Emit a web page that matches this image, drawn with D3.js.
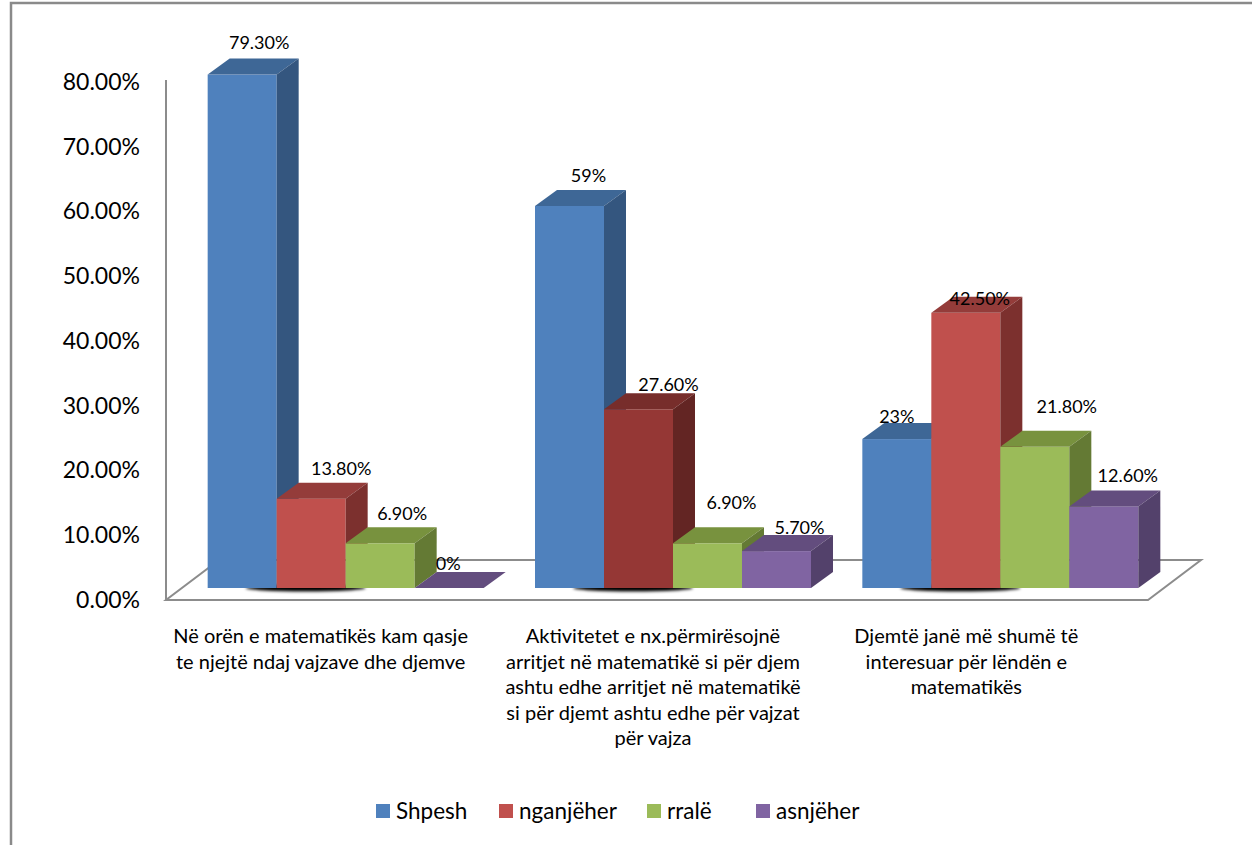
<!DOCTYPE html>
<html>
<head>
<meta charset="utf-8">
<script src="https://cdn.jsdelivr.net/npm/d3@7"></script>
<style>
    body { margin: 0; background: #fff; }
    svg text { font-family: Lato, "Open Sans", sans-serif; fill: #000; }
</style>
</head>
<body>
<svg id="chart" width="1252" height="845"></svg>
<script>
// ---- data ----
var categories = ["cat1", "cat2", "cat3"];
var categoryLines = [
    ["Në orën e matematikës kam qasje", "te njejtë ndaj vajzave dhe djemve"],
    ["Aktivitetet e nx.përmirësojnë", "arritjet në matematikë si për djem", "ashtu edhe arritjet në matematikë", "si për djemt ashtu edhe për vajzat", "për vajza"],
    ["Djemtë janë më shumë të", "interesuar për lëndën e", "matematikës"]
];
var series = ["Shpesh", "nganjëher", "rralë", "asnjëher"];
var shpesh = [0.793, 0.59, 0.23];
var nganjeher = [0.138, 0.276, 0.425];
var rrale = [0.069, 0.069, 0.218];
var asnjeher = [0, 0.057, 0.126];
var shpeshLabels = ["79.30%", "59%", "23%"];
var nganjeherLabels = ["13.80%", "27.60%", "42.50%"];
var rraleLabels = ["6.90%", "6.90%", "21.80%"];
var asnjeherLabels = ["0%", "5.70%", "12.60%"];
var yTicks = [0, 0.1, 0.2, 0.3, 0.4, 0.5, 0.6, 0.7, 0.8];

// ---- styles / layout ----
var seriesValues = [shpesh, nganjeher, rrale, asnjeher];
var seriesLabels = [shpeshLabels, nganjeherLabels, rraleLabels, asnjeherLabels];
var colors = [
    {front: "#4F81BD", top: "#3E6796", side: "#34567F"},
    {front: "#C0504D", top: "#943C3A", side: "#7C302E"},
    {front: "#9BBB59", top: "#78923E", side: "#647A34"},
    {front: "#8064A2", top: "#634D7E", side: "#53416B"}
];
// the middle cluster's red bar is a darker red in the original
var pointColors = {"1-1": {front: "#953735", top: "#772D2B", side: "#632523"}};
// label nudges (Excel moved a few labels around)
var labelNudgeX = [[-5, 8, 0, -23], [-3, 8, 2, 1], [-22, -8, 10, 2]];
var labelNudgeY = [[-2, 0, 1, 6], [0, 6, -10, 7], [8, 16, -10, 0]];
var catLabelNudge = [-9, -4, -18];
var legendX = [376, 499, 647, 756];

var settings = {
    floorLeft: 166,
    floorRight: 1148,
    base: 600,
    top: 82,
    floorDx: 53, floorDy: 40,
    frontDx: 16, frontDy: 12,
    barDx: 22, barDy: 16
};

var svg = d3.select("#chart");

// frame
svg.append("path")
    .attr("d", "M11,845 L11,3 L1252,3")
    .attr("fill", "none")
    .attr("stroke", "#8a8a8a")
    .attr("stroke-width", 2.5);
svg.append("text").attr("x", 34).attr("y", -4).attr("font-size", 18).text("g");

var x0 = d3.scaleBand()
    .domain(categories)
    .range([settings.floorLeft, settings.floorRight])
    .padding(0);

var x1 = d3.scaleBand()
    .domain(series)
    .range([0, x0.bandwidth()])
    .paddingInner(0)
    .paddingOuter(0.372);

var y = d3.scaleLinear().domain([0, 0.8]).range([settings.base, settings.top]);

// floor
var s = settings;
svg.append("polygon")
    .attr("points", [
        [s.floorLeft, s.base], [s.floorRight, s.base],
        [s.floorRight + s.floorDx, s.base - s.floorDy], [s.floorLeft + s.floorDx, s.base - s.floorDy]
    ].join(" "))
    .attr("fill", "#fff")
    .attr("stroke", "#8c8c8c")
    .attr("stroke-width", 2);

svg.append("line")
    .attr("x1", s.floorLeft).attr("x2", s.floorLeft)
    .attr("y1", y(0.8) - 2).attr("y2", s.base)
    .attr("stroke", "#8c8c8c")
    .attr("stroke-width", 2);

// y axis
var yAxis = d3.axisLeft(y)
    .tickValues(yTicks)
    .tickFormat(d3.format(".2%"))
    .tickSize(0)
    .tickPadding(0);

var yAxisDom = svg.append("g")
    .attr("transform", "translate(140,0)")
    .call(yAxis);
yAxisDom.select(".domain").remove();
yAxisDom.attr("font-family", null).attr("font-size", null);
yAxisDom.selectAll("text")
    .style("font-size", "23px")
    .attr("fill", "#000");

// shadows under clusters
var defs = svg.append("defs");
defs.append("filter").attr("id", "blur")
    .attr("x", "-20%").attr("y", "-200%").attr("width", "140%").attr("height", "500%")
    .append("feGaussianBlur").attr("stdDeviation", 1.8);

svg.selectAll(".shadow")
    .data(categories)
    .enter()
    .append("ellipse")
    .attr("class", "shadow")
    .attr("cx", function(d) { return x0(d) + x0.bandwidth() / 2 + s.frontDx - 40; })
    .attr("cy", s.base - s.frontDy)
    .attr("rx", 60)
    .attr("ry", 3.5)
    .attr("fill", "#000")
    .attr("filter", "url(#blur)");

// bars
var bars = [];
categories.forEach(function(c, i) {
    series.forEach(function(ser, j) {
        bars.push({cat: c, ci: i, ser: ser, si: j, value: seriesValues[j][i], label: seriesLabels[j][i]});
    });
});

var w = x1.bandwidth();
function geom(d) {
    var fx = x0(d.cat) + x1(d.ser) + s.frontDx;
    var yt = y(d.value) - s.frontDy;
    var yb = y(0) - s.frontDy;
    return {fx: fx, yt: yt, yb: yb};
}
function colorOf(d) {
    return pointColors[d.ci + "-" + d.si] || colors[d.si];
}

var barG = svg.selectAll(".bar")
    .data(bars)
    .enter()
    .append("g")
    .attr("class", "bar");

barG.append("rect")
    .attr("x", function(d) { return geom(d).fx; })
    .attr("y", function(d) { return geom(d).yt; })
    .attr("width", w)
    .attr("height", function(d) { var g = geom(d); return g.yb - g.yt; })
    .attr("fill", function(d) { return colorOf(d).front; });

barG.append("polygon")
    .attr("points", function(d) {
        var g = geom(d);
        return [[g.fx, g.yt], [g.fx + s.barDx, g.yt - s.barDy],
                [g.fx + w + s.barDx, g.yt - s.barDy], [g.fx + w, g.yt]].join(" ");
    })
    .attr("fill", function(d) { return colorOf(d).top; });

barG.append("polygon")
    .attr("points", function(d) {
        var g = geom(d);
        return [[g.fx + w, g.yt], [g.fx + w + s.barDx, g.yt - s.barDy],
                [g.fx + w + s.barDx, g.yb - s.barDy], [g.fx + w, g.yb]].join(" ");
    })
    .attr("fill", function(d) { return colorOf(d).side; });

// data labels
svg.selectAll(".value-label")
    .data(bars)
    .enter()
    .append("text")
    .attr("class", "value-label")
    .attr("text-anchor", "middle")
    .style("font-size", "18px")
    .attr("x", function(d) { return geom(d).fx + w / 2 + s.barDx + labelNudgeX[d.ci][d.si]; })
    .attr("y", function(d) { return geom(d).yt - s.barDy - 8 + labelNudgeY[d.ci][d.si]; })
    .text(function(d) { return d.label; });

// category labels
var catText = svg.selectAll(".cat-label")
    .data(categories)
    .enter()
    .append("text")
    .attr("class", "cat-label")
    .attr("text-anchor", "middle")
    .style("font-size", "20px");

catText.each(function(d, i) {
    var cx = x0(d) + x0.bandwidth() / 2 + catLabelNudge[i];
    d3.select(this).selectAll("tspan")
        .data(categoryLines[i])
        .enter()
        .append("tspan")
        .attr("x", cx)
        .attr("y", function(t, k) { return 643 + k * 25.5; })
        .text(function(t) { return t; });
});

// legend
var legend = svg.selectAll(".legend")
    .data(series)
    .enter()
    .append("g")
    .attr("class", "legend")
    .attr("transform", function(d, i) { return "translate(" + legendX[i] + ",804)"; });

legend.append("rect")
    .attr("width", 14).attr("height", 14)
    .attr("fill", function(d, i) { return colors[i].front; });

legend.append("text")
    .attr("x", 20).attr("y", 15)
    .style("font-size", "22.5px")
    .text(function(d) { return d; });
</script>
</body>
</html>
